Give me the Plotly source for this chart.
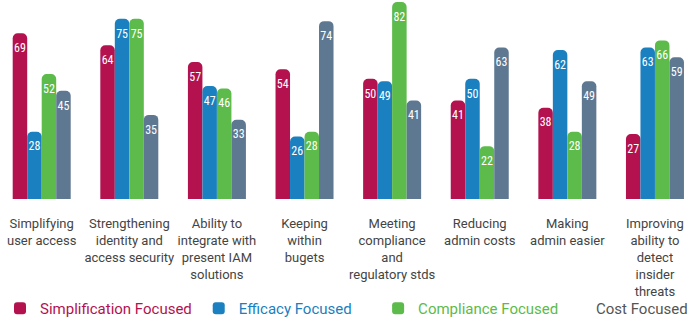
import plotly.graph_objects as go

categories = [
    "Simplifying<br>user access",
    "Strengthening<br>identity and<br>access security",
    "Ability to<br>integrate with<br>present IAM<br>solutions",
    "Keeping<br>within<br>bugets",
    "Meeting<br>compliance<br>and<br>regulatory stds",
    "Reducing<br>admin costs",
    "Making<br>admin easier",
    "Improving<br>ability to<br>detect<br>insider<br>threats",
]
simplification = [69, 64, 57, 54, 50, 41, 38, 27]
efficacy = [28, 75, 47, 26, 49, 50, 62, 63]
compliance = [52, 75, 46, 28, 82, 22, 28, 66]
cost = [45, 35, 33, 74, 41, 63, 49, 59]

series_names = ["Simplification Focused", "Efficacy Focused", "Compliance Focused", "Cost Focused"]
series_values = [simplification, efficacy, compliance, cost]
colors = ["#B3124F", "#1A80C0", "#5CBB4A", "#5E7891"]
legend_ids = ["legend", "legend2", "legend3", None]
legend_x = [0.0, 0.288, 0.548, None]

LEGEND_FONT = dict(family="Roboto, 'Open Sans', sans-serif", size=15)
LEGEND_Y = -0.551
GAP = 0.338

xs = list(range(len(categories)))
fig = go.Figure()
for k, (name, vals, col, lid) in enumerate(zip(series_names, series_values, colors, legend_ids)):
    fig.add_trace(go.Bar(
        x=xs, y=vals,
        name=f'<span style="color:{col}">{name}</span>',
        marker=dict(color=col, line=dict(width=0)),
        offsetgroup=str(k),
        showlegend=lid is not None,
        legend=lid if lid else "legend",
        hoverinfo="skip",
    ))
for k, (vals, col) in enumerate(zip(series_values, colors)):
    fig.add_trace(go.Scatter(
        x=xs, y=vals, mode="markers+text",
        marker=dict(size=14, color="rgba(0,0,0,0)", line=dict(width=0)),
        text=[str(v) for v in vals],
        textposition="bottom center",
        textfont=dict(family="'Roboto Condensed', 'Roboto', sans-serif",
                      size=12, color="white"),
        offsetgroup=str(k),
        showlegend=False, cliponaxis=False, hoverinfo="skip",
    ))

layout_legends = {}
for lid, lx in zip(legend_ids, legend_x):
    if lid is None:
        continue
    layout_legends[lid] = dict(
        x=lx, y=LEGEND_Y, xanchor="left", yanchor="middle",
        orientation="h", font=LEGEND_FONT, bgcolor="rgba(0,0,0,0)",
    )

fig.add_annotation(
    text="Cost Focused", xref="paper", yref="paper",
    x=1.0, y=LEGEND_Y, xanchor="right", yanchor="middle", showarrow=False,
    font=dict(LEGEND_FONT, color="#555555"),
)

fig.update_layout(
    width=690, height=325,
    margin=dict(l=0, r=0, t=0, b=120),
    paper_bgcolor="white", plot_bgcolor="white",
    barmode="group", bargap=GAP, bargroupgap=0,
    scattermode="group", scattergap=GAP,
    barcornerradius=5,
    xaxis=dict(
        tickmode="array", tickvals=xs, ticktext=categories,
        range=[-0.476, 7.40], showgrid=False, zeroline=False, showline=False,
        ticks="", tickfont=dict(family="Roboto, sans-serif", size=13, color="#444444"),
        ticklabelstandoff=15,
    ),
    yaxis=dict(range=[0, 82.8], visible=False),
    **layout_legends,
)

fig.write_html("out.html")
